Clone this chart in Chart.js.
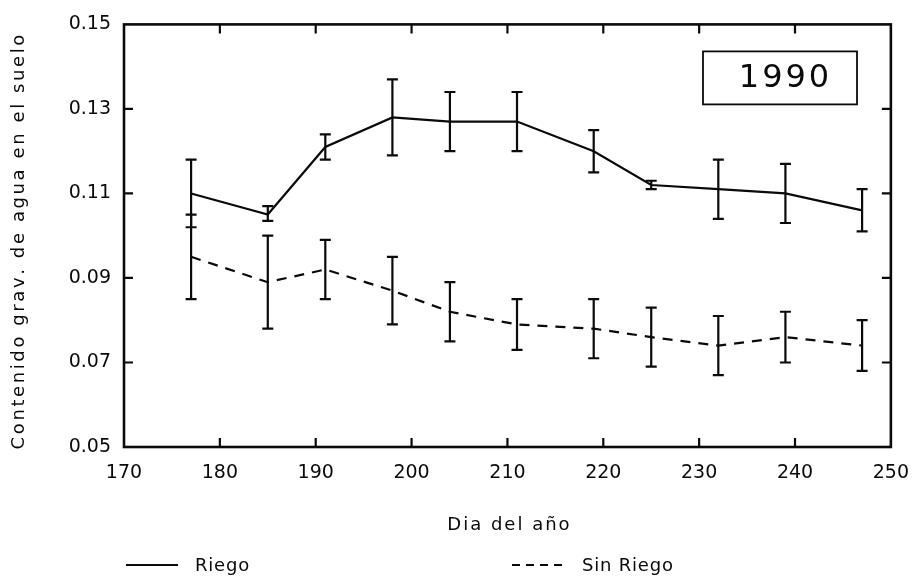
<!DOCTYPE html>
<html>
<head>
<meta charset="utf-8">
<script src="https://cdn.jsdelivr.net/npm/chart.js@4.4.1/dist/chart.umd.min.js"></script>
<style>
  html, body { margin: 0; padding: 0; background: #fff; }
  #c { display: block; }
</style>
</head>
<body>
<canvas id="c" width="924" height="581"></canvas>
<script>
// ---- data ----
const days = [177, 185, 191, 198, 204, 211, 219, 225, 232, 239, 247];
const riego = [0.110, 0.105, 0.121, 0.128, 0.127, 0.127, 0.120, 0.112, 0.111, 0.110, 0.106];
const riegoHigh = [0.118, 0.107, 0.124, 0.137, 0.134, 0.134, 0.125, 0.113, 0.118, 0.117, 0.111];
const riegoLow = [0.102, 0.1035, 0.118, 0.119, 0.120, 0.120, 0.115, 0.111, 0.104, 0.103, 0.101];
const sinRiego = [0.095, 0.089, 0.092, 0.087, 0.082, 0.079, 0.078, 0.076, 0.074, 0.076, 0.074];
const sinHigh = [0.105, 0.100, 0.099, 0.095, 0.089, 0.085, 0.085, 0.083, 0.081, 0.082, 0.080];
const sinLow = [0.085, 0.078, 0.085, 0.079, 0.075, 0.073, 0.071, 0.069, 0.067, 0.070, 0.068];
const xTicks = [170, 180, 190, 200, 210, 220, 230, 240, 250];
const yTicks = [0.05, 0.07, 0.09, 0.11, 0.13, 0.15];
const seriesNames = ['Riego', 'Sin Riego'];
const yearLabel = '1990';
const xTitle = 'Dia del año';
const yTitle = 'Contenido grav. de agua en el suelo';

const FONT = "'DejaVu Sans', sans-serif";
const INK = '#0a0a0a';

const errorBars = [
  { low: riegoLow, high: riegoHigh },
  { low: sinLow, high: sinHigh }
];

function measureSpaced(ctx, text, spacing) {
  let total = 0;
  for (const ch of text) total += ctx.measureText(ch).width + spacing;
  return total - spacing;
}
function spacedText(ctx, text, x, y, spacing) {
  // draw centered text with letter spacing (char by char, portable)
  const total = measureSpaced(ctx, text, spacing);
  let cx = x - total / 2;
  ctx.textAlign = 'left';
  for (const ch of text) { ctx.fillText(ch, cx, y); cx += ctx.measureText(ch).width + spacing; }
}
function spacedLeft(ctx, text, x, y, spacing) {
  const total = measureSpaced(ctx, text, spacing);
  spacedText(ctx, text, x + total / 2, y, spacing);
}

const decorPlugin = {
  id: 'decor',
  afterDatasetsDraw(chart) {
    const ctx = chart.ctx;
    const xs = chart.scales.x, ys = chart.scales.y;
    ctx.save();
    ctx.strokeStyle = INK;
    ctx.lineWidth = 2.2;
    ctx.setLineDash([]);
    errorBars.forEach(eb => {
      days.forEach((d, i) => {
        const px = xs.getPixelForValue(d);
        const yl = ys.getPixelForValue(eb.low[i]);
        const yh = ys.getPixelForValue(eb.high[i]);
        ctx.beginPath();
        ctx.moveTo(px, yl); ctx.lineTo(px, yh);
        ctx.moveTo(px - 5.5, yl); ctx.lineTo(px + 5.5, yl);
        ctx.moveTo(px - 5.5, yh); ctx.lineTo(px + 5.5, yh);
        ctx.stroke();
      });
    });
    ctx.restore();
  },
  afterDraw(chart) {
    const ctx = chart.ctx;
    const a = chart.chartArea;
    const xs = chart.scales.x, ys = chart.scales.y;
    ctx.save();
    ctx.strokeStyle = INK;
    ctx.lineWidth = 2.6;
    ctx.setLineDash([]);
    ctx.strokeRect(a.left, a.top, a.right - a.left, a.bottom - a.top);
    // inward ticks
    const tl = 9;
    ctx.lineWidth = 2.2;
    ctx.beginPath();
    xTicks.slice(1, -1).forEach(v => {
      const px = xs.getPixelForValue(v);
      ctx.moveTo(px, a.bottom); ctx.lineTo(px, a.bottom - tl);
      ctx.moveTo(px, a.top); ctx.lineTo(px, a.top + tl);
    });
    yTicks.slice(1, -1).forEach(v => {
      const py = ys.getPixelForValue(v);
      ctx.moveTo(a.left, py); ctx.lineTo(a.left + tl, py);
      ctx.moveTo(a.right, py); ctx.lineTo(a.right - tl, py);
    });
    ctx.stroke();

    ctx.fillStyle = INK;
    ctx.textBaseline = 'middle';

    // year box
    const bx = a.left + 579, by = a.top + 27, bw = 154, bh = 53;
    ctx.lineWidth = 1.8;
    ctx.strokeRect(bx, by, bw, bh);
    ctx.font = "32px " + FONT;
    spacedText(ctx, yearLabel, bx + bw / 2 + 4, by + bh / 2 + 1, 3);

    // axis titles
    ctx.font = "18px " + FONT;
    spacedText(ctx, xTitle, (a.left + a.right) / 2 + 1, 525, 2);
    ctx.save();
    ctx.translate(19, 242);
    ctx.rotate(-Math.PI / 2);
    ctx.font = "18px " + FONT;
    spacedText(ctx, yTitle, 0, 0, 2.6);
    ctx.restore();

    // legend
    const ly = 565;
    ctx.lineWidth = 2.2;
    ctx.beginPath();
    ctx.moveTo(126, ly); ctx.lineTo(178, ly);
    ctx.stroke();
    ctx.setLineDash([8, 6]);
    ctx.beginPath();
    ctx.moveTo(512, ly); ctx.lineTo(563, ly);
    ctx.stroke();
    ctx.setLineDash([]);
    ctx.font = "18px " + FONT;
    spacedLeft(ctx, seriesNames[0], 195, ly + 1, 0.8);
    spacedLeft(ctx, seriesNames[1], 582, ly + 1, 0.8);
    ctx.restore();
  }
};

new Chart(document.getElementById('c'), {
  type: 'line',
  data: {
    datasets: [
      {
        label: seriesNames[0],
        data: days.map((d, i) => ({ x: d, y: riego[i] })),
        borderColor: INK, borderWidth: 2.2, pointRadius: 0, fill: false, tension: 0
      },
      {
        label: seriesNames[1],
        data: days.map((d, i) => ({ x: d, y: sinRiego[i] })),
        borderColor: INK, borderWidth: 2.2, borderDash: [10, 8], pointRadius: 0, fill: false, tension: 0
      }
    ]
  },
  options: {
    responsive: false,
    animation: false,
    events: [],
    layout: { padding: { top: 16, right: 27, bottom: 0, left: 0 } },
    plugins: { legend: { display: false }, tooltip: { enabled: false } },
    scales: {
      x: {
        type: 'linear', min: 170, max: 250,
        afterBuildTicks: s => { s.ticks = xTicks.map(v => ({ value: v })); },
        afterFit: s => { s.height = 134; },
        grid: { display: false, drawTicks: false },
        border: { display: false },
        ticks: { color: INK, font: { family: FONT, size: 19 }, padding: 15, maxRotation: 0, autoSkip: false },
        title: { display: false }
      },
      y: {
        type: 'linear', min: 0.05, max: 0.15,
        afterBuildTicks: s => { s.ticks = yTicks.map(v => ({ value: v })); },
        afterFit: s => { s.width = 124; },
        grid: { display: false, drawTicks: false },
        border: { display: false },
        ticks: { color: INK, font: { family: FONT, size: 19 }, padding: 13, autoSkip: false,
                 callback: v => v.toFixed(2) },
        title: { display: false }
      }
    }
  },
  plugins: [decorPlugin]
});
</script>
</body>
</html>
